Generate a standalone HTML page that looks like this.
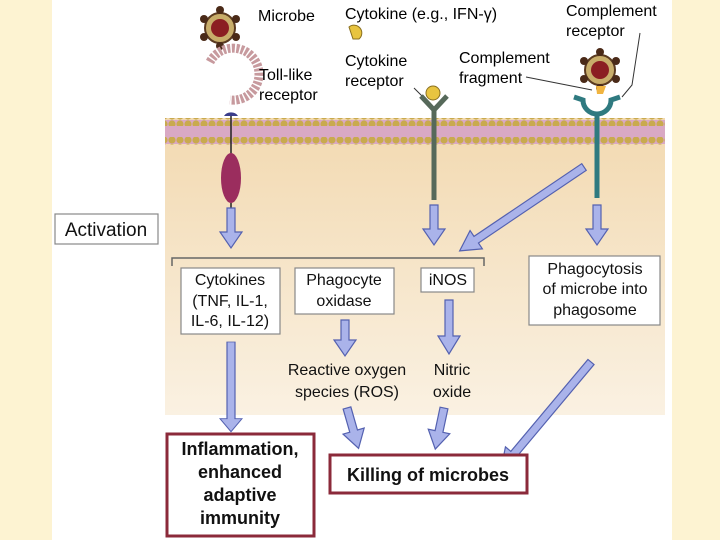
<!DOCTYPE html>
<html><head><meta charset="utf-8"><style>
html,body{margin:0;padding:0;width:720px;height:540px;overflow:hidden;background:#fdf3d2}
svg{display:block;font-family:"Liberation Sans",sans-serif}
</style></head><body>
<svg width="720" height="540" viewBox="0 0 720 540">
<defs>
<linearGradient id="cell" x1="0" y1="0" x2="0" y2="1">
<stop offset="0" stop-color="#f2d9b0"/><stop offset="1" stop-color="#faf1e2"/>
</linearGradient>
<pattern id="dots" width="8" height="8" patternUnits="userSpaceOnUse"><circle cx="4" cy="4" r="3.6" fill="#c9aa4e"/></pattern>
<g id="mic">
<circle r="15" fill="#c8ad6a" stroke="#5a3a20" stroke-width="2"/>
<circle r="9" fill="#8b1e22"/>
<g fill="#4a2a18"><circle cx="0" cy="-18" r="4"/><circle cx="0" cy="18" r="4"/><circle cx="-16" cy="-9" r="4"/><circle cx="16" cy="-9" r="4"/><circle cx="-16" cy="9" r="4"/><circle cx="16" cy="9" r="4"/></g>
</g>
</defs>
<rect x="52" y="0" width="620" height="540" fill="#fff"/>
<rect x="165" y="118" width="500" height="297" fill="url(#cell)"/>
<rect x="165" y="120" width="500" height="24" fill="#d9a9c4"/>
<rect x="165" y="118" width="500" height="8" fill="url(#dots)"/>
<rect x="165" y="137" width="500" height="8" fill="url(#dots)"/>
<!-- TLR -->
<use href="#mic" x="220" y="28"/>
<path d="M 210 62 A 26 26 0 1 1 230 100" fill="none" stroke="#c79a9e" stroke-width="9" stroke-dasharray="3 1.5"/>
<path d="M224 116 A8 7 0 0 1 238 116 Z" fill="#3a3d8a"/>
<line x1="231" y1="116" x2="231" y2="160" stroke="#222" stroke-width="1.5"/>
<ellipse cx="231" cy="178" rx="10" ry="25" fill="#9b2d5e"/>
<line x1="231" y1="203" x2="231" y2="210" stroke="#222" stroke-width="1.5"/>
<text x="258" y="21" font-size="16">Microbe</text>
<text x="259" y="80" font-size="16">Toll-like</text>
<text x="259" y="100" font-size="16">receptor</text>
<!-- cytokine -->
<path d="M349 27 a7 7 0 1 1 10 12 l-6 0 z" fill="#e8c440" stroke="#8a7020"/>
<text x="345" y="19" font-size="16">Cytokine (e.g., IFN-γ)</text>
<text x="345" y="66" font-size="16">Cytokine</text>
<text x="345" y="86" font-size="16">receptor</text>
<line x1="414" y1="88" x2="424" y2="98" stroke="#333" stroke-width="1"/>
<circle cx="433" cy="93" r="7" fill="#e8c440" stroke="#8a7020"/>
<path d="M421 96 L434 110 L447 96" fill="none" stroke="#56695a" stroke-width="5"/>
<line x1="434" y1="108" x2="434" y2="200" stroke="#56695a" stroke-width="5"/>
<!-- complement -->
<use href="#mic" x="600" y="70"/>
<path d="M596 86 h10 l-3 8 h-6 z" fill="#f0b440"/>
<path d="M574 97 L583 100 A14 14 0 0 0 611 100 L620 97" fill="none" stroke="#2f7a80" stroke-width="5"/>
<line x1="597" y1="112" x2="597" y2="198" stroke="#2f7a80" stroke-width="5"/>
<text x="566" y="16" font-size="16">Complement</text>
<text x="566" y="36" font-size="16">receptor</text>
<text x="459" y="63" font-size="16">Complement</text>
<text x="459" y="83" font-size="16">fragment</text>
<line x1="526" y1="77" x2="592" y2="90" stroke="#333"/>
<path d="M640 33 L632 85 L622 97" fill="none" stroke="#333"/>
<!-- arrows -->
<g fill="#aab3ea" stroke="#5461b0" stroke-width="1.2">
<path id="a" d="M-4 0 h8 v24 h7 l-11 16 l-11 -16 h7 z" transform="translate(231,208)"/>
<path d="M-4 0 h8 v24 h7 l-11 16 l-11 -16 h7 z" transform="translate(434,205)"/>
<path d="M-4 0 h8 v24 h7 l-11 16 l-11 -16 h7 z" transform="translate(597,205)"/>
<path d="M-4 0 h8 v118 h7 l-11 20 l-11 -20 h7 z" transform="translate(231,342) scale(1,0.65)"/>
<path d="M-4 0 h8 v20 h7 l-11 16 l-11 -16 h7 z" transform="translate(345,320)"/>
<path d="M-4 0 h8 v36 h7 l-11 18 l-11 -18 h7 z" transform="translate(449,300)"/>
<path d="M-4 0 h8 v130 h7 l-11 20 l-11 -20 h7 z" transform="translate(584,167) rotate(56)"/>
<path d="M-4 0 h8 v24 h7 l-11 18 l-11 -18 h7 z" transform="translate(347,408) rotate(-16)"/>
<path d="M-4 0 h8 v24 h7 l-11 18 l-11 -18 h7 z" transform="translate(444,408) rotate(12)"/>
<path d="M-4 0 h8 v120 h7 l-11 20 l-11 -20 h7 z" transform="translate(591,362) rotate(40)"/>
</g>
<!-- bracket -->
<path d="M172 266 V258 H484 V266" fill="none" stroke="#666" stroke-width="1.5"/>
<g fill="#fff" stroke="#888" stroke-width="1.2">
<rect x="55" y="214" width="103" height="30"/>
<rect x="181" y="268" width="99" height="66"/>
<rect x="295" y="268" width="99" height="46"/>
<rect x="421" y="268" width="53" height="24"/>
<rect x="529" y="256" width="131" height="69"/>
</g>
<g font-size="16" text-anchor="middle" fill="#111">
<text x="106" y="236" font-size="19">Activation</text>
<text x="230" y="285">Cytokines</text><text x="230" y="306">(TNF, IL-1,</text><text x="230" y="326">IL-6, IL-12)</text>
<text x="344" y="285">Phagocyte</text><text x="344" y="306">oxidase</text>
<text x="448" y="285">iNOS</text>
<text x="595" y="274">Phagocytosis</text><text x="595" y="294">of microbe into</text><text x="595" y="315">phagosome</text>
<text x="347" y="375">Reactive oxygen</text><text x="347" y="397">species (ROS)</text>
<text x="452" y="375">Nitric</text><text x="452" y="397">oxide</text>
</g>
<rect x="167" y="434" width="147" height="102" fill="#fff" stroke="#8b2a3a" stroke-width="3"/>
<rect x="330" y="455" width="197" height="38" fill="#fff" stroke="#8b2a3a" stroke-width="3"/>
<g font-size="18" font-weight="bold" text-anchor="middle" fill="#111">
<text x="240" y="455">Inflammation,</text><text x="240" y="478">enhanced</text><text x="240" y="501">adaptive</text><text x="240" y="524">immunity</text>
<text x="428" y="481">Killing of microbes</text>
</g>
</svg>
</body></html>
